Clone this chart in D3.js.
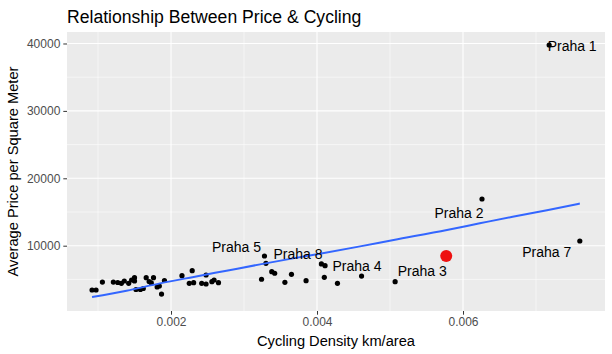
<!DOCTYPE html>
<html>
<head>
<meta charset="utf-8">
<script src="https://cdn.jsdelivr.net/npm/d3@7"></script>
<style>
	body { margin: 0; background: #fff; }
	text { font-family: "Liberation Sans", Arial, sans-serif; }
</style>
</head>
<body>
<div id="chart-area"></div>
<script>

// Data
let density = [0.000918, 0.000973, 0.00106, 0.00121, 0.00127, 0.00132, 0.00136, 0.00142, 0.00146, 0.00150,
	0.00150, 0.00152, 0.00158, 0.00162, 0.00166, 0.00170, 0.00173, 0.00176, 0.00181, 0.00184,
	0.00187, 0.00191, 0.00215, 0.00225, 0.00231, 0.00229, 0.00242, 0.00248, 0.00248, 0.00256,
	0.00259, 0.00265, 0.00328, 0.00330, 0.00324, 0.00338, 0.00342, 0.00356, 0.00365, 0.00385,
	0.00406, 0.00411, 0.00410, 0.00428, 0.00461, 0.00507, 0.00626, 0.00760, 0.00718];
let price = [3430, 3430, 4610, 4610, 4540, 4420, 4760, 4420, 4910, 5250,
	4760, 3500, 3500, 3650, 5250, 4690, 4470, 5250, 3870, 4020,
	2830, 4840, 5550, 4420, 4510, 6290, 4420, 4320, 5650, 4660,
	4910, 4510, 8470, 7390, 5020, 6140, 5910, 4570, 5760, 4810,
	7290, 7030, 5310, 4420, 5500, 4660, 16930, 10700, 39780];

// highlighted district
let highlightDensity = [0.00577];
let highlightPrice = [8470];

// smoothed trend line
let trendDensity = [0.000918, 0.00139, 0.00185, 0.00231, 0.00276, 0.00322, 0.00367, 0.00404, 0.00459, 0.00505,
	0.00578, 0.00623, 0.00668, 0.00715, 0.00760];
let trendPrice = [2390, 3320, 4410, 5370, 6290, 7230, 8120, 8810, 9900, 10850,
	12330, 13320, 14300, 15270, 16250];

// district labels and the point each one belongs to
let labelNames = ["Praha 1", "Praha 2", "Praha 3", "Praha 4", "Praha 5", "Praha 7", "Praha 8"];
let labelDensity = [0.00718, 0.00626, 0.00577, 0.00411, 0.00328, 0.00760, 0.00330];
let labelPrice = [39780, 16930, 8470, 7030, 8470, 10700, 7390];

let xTicks = [0.002, 0.004, 0.006];
let xMinor = [0.001, 0.003, 0.005, 0.007];
let yTicks = [10000, 20000, 30000, 40000];
let yMinor = [5000, 15000, 25000, 35000];

// label offsets in pixels (repel-style placement)
let labelNudge = {
	"Praha 1": [23, 6],
	"Praha 2": [-23, 19],
	"Praha 3": [-24, 20],
	"Praha 4": [32, 5],
	"Praha 5": [-28, -4],
	"Praha 7": [-33, 16],
	"Praha 8": [32, -4]
};

// SVG Size
let width = 612,
	height = 354;

let panel = { left: 67, right: 605, top: 32, bottom: 311 };

let svg = d3.select("#chart-area")
	.append("svg")
	.attr("width", width)
	.attr("height", height);

let x = d3.scaleLinear()
	.domain([0.000575, 0.007945])
	.range([panel.left, panel.right]);
let y = d3.scaleLinear()
	.domain([312, 41706])
	.range([panel.bottom, panel.top]);

// panel background
svg.append("rect")
	.attr("x", panel.left)
	.attr("y", panel.top)
	.attr("width", panel.right - panel.left)
	.attr("height", panel.bottom - panel.top)
	.attr("fill", "#ebebeb");

// grid lines
let grid = svg.append("g");
grid.selectAll(".xminor").data(xMinor).enter().append("line")
	.attr("x1", function(d) { return x(d); }).attr("x2", function(d) { return x(d); })
	.attr("y1", panel.top).attr("y2", panel.bottom)
	.attr("stroke", "#fff").attr("stroke-width", 0.55);
grid.selectAll(".yminor").data(yMinor).enter().append("line")
	.attr("y1", function(d) { return y(d); }).attr("y2", function(d) { return y(d); })
	.attr("x1", panel.left).attr("x2", panel.right)
	.attr("stroke", "#fff").attr("stroke-width", 0.55);
grid.selectAll(".xmajor").data(xTicks).enter().append("line")
	.attr("x1", function(d) { return x(d); }).attr("x2", function(d) { return x(d); })
	.attr("y1", panel.top).attr("y2", panel.bottom)
	.attr("stroke", "#fff").attr("stroke-width", 1.1);
grid.selectAll(".ymajor").data(yTicks).enter().append("line")
	.attr("y1", function(d) { return y(d); }).attr("y2", function(d) { return y(d); })
	.attr("x1", panel.left).attr("x2", panel.right)
	.attr("stroke", "#fff").attr("stroke-width", 1.1);

// axes
let xAxis = d3.axisBottom(x)
	.tickValues(xTicks)
	.tickFormat(d3.format(".3f"))
	.tickSize(3.7)
	.tickPadding(3);
let yAxis = d3.axisLeft(y)
	.tickValues(yTicks)
	.tickFormat(d3.format("d"))
	.tickSize(3.7)
	.tickPadding(3);

let gx = svg.append("g")
	.attr("class", "axis x-axis")
	.attr("transform", "translate(0," + panel.bottom + ")")
	.call(xAxis);
let gy = svg.append("g")
	.attr("class", "axis y-axis")
	.attr("transform", "translate(" + panel.left + ",0)")
	.call(yAxis);

[gx, gy].forEach(function(g) {
	g.select(".domain").remove();
	g.selectAll(".tick line").attr("stroke", "#333333").attr("stroke-width", 1);
	g.selectAll(".tick text")
		.attr("fill", "#4d4d4d")
		.style("font-size", "12px")
		.style("font-family", "'Liberation Sans', Arial, sans-serif");
});

// points
svg.append("g").selectAll("circle")
	.data(density)
	.enter()
	.append("circle")
	.attr("cx", function(d) { return x(d); })
	.attr("cy", function(d, i) { return y(price[i]); })
	.attr("r", 2.6)
	.attr("fill", "#000");

// trend line
let line = d3.line()
	.x(function(d) { return x(d); })
	.y(function(d, i) { return y(trendPrice[i]); })
	.curve(d3.curveMonotoneX);
svg.append("path")
	.datum(trendDensity)
	.attr("d", line)
	.attr("fill", "none")
	.attr("stroke", "#3366ff")
	.attr("stroke-width", 2);

// highlighted point
svg.append("g").selectAll("circle")
	.data(highlightDensity)
	.enter()
	.append("circle")
	.attr("cx", function(d) { return x(d); })
	.attr("cy", function(d, i) { return y(highlightPrice[i]); })
	.attr("r", 6)
	.attr("fill", "#ee1111");

// district labels
svg.append("g").selectAll("text")
	.data(labelNames)
	.enter()
	.append("text")
	.attr("x", function(d, i) { return x(labelDensity[i]) + labelNudge[d][0]; })
	.attr("y", function(d, i) { return y(labelPrice[i]) + labelNudge[d][1]; })
	.attr("text-anchor", "middle")
	.attr("fill", "#000")
	.style("font-size", "14px")
	.text(function(d) { return d; });

// titles
svg.append("text")
	.attr("x", panel.left)
	.attr("y", 23)
	.style("font-size", "17.6px")
	.attr("fill", "#000")
	.text("Relationship Between Price & Cycling");

svg.append("text")
	.attr("x", (panel.left + panel.right) / 2)
	.attr("y", 346)
	.attr("text-anchor", "middle")
	.style("font-size", "14.67px")
	.attr("fill", "#000")
	.text("Cycling Density km/area");

svg.append("text")
	.attr("transform", "translate(18," + ((panel.top + panel.bottom) / 2) + ") rotate(-90)")
	.attr("text-anchor", "middle")
	.style("font-size", "14.67px")
	.attr("fill", "#000")
	.text("Average Price per Square Meter");

</script>
</body>
</html>
